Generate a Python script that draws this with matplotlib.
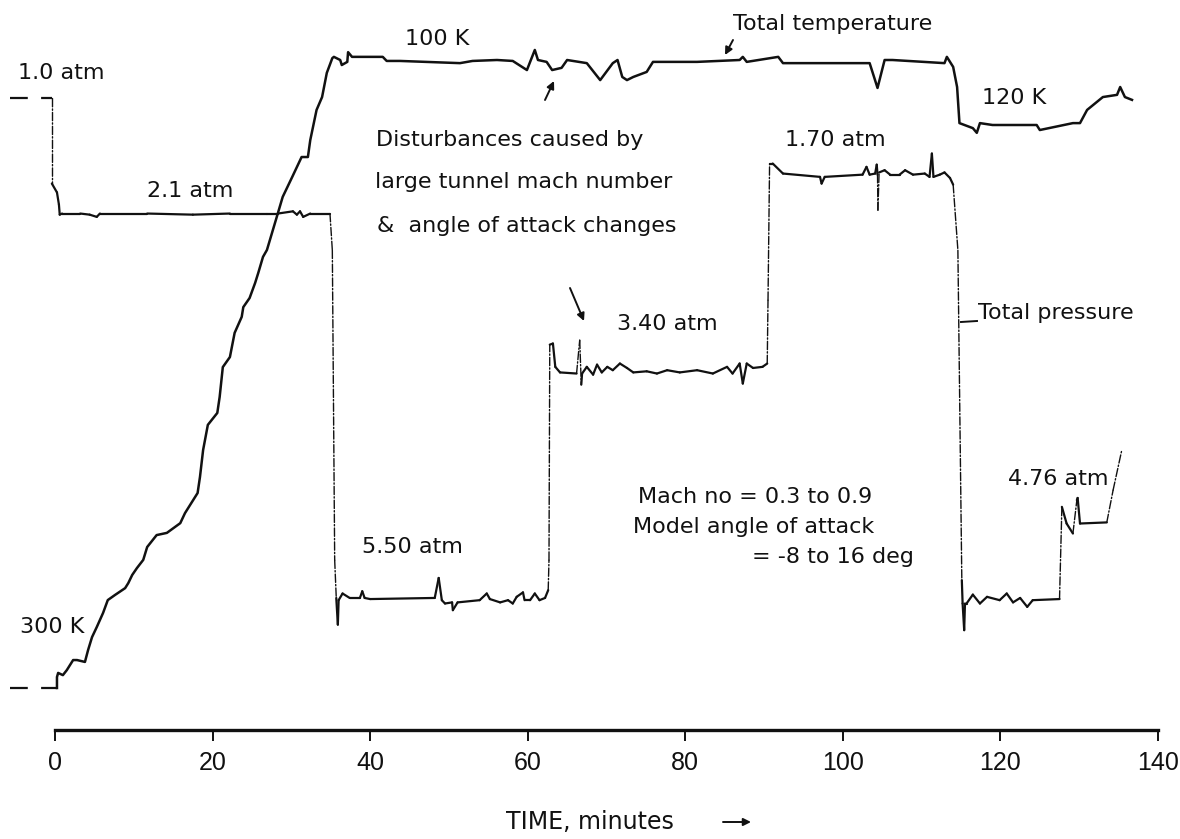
import matplotlib
matplotlib.use("Agg")
import matplotlib.pyplot as plt
from matplotlib.collections import LineCollection
import numpy as np

# ---------------- data ----------------
# Total temperature trace: time [min], temperature [K]
temp_time = [0.25, 0.25, 0.4, 1.0, 1.5, 2.3, 2.8, 3.8, 4.2, 4.7, 5.3, 6.1, 6.7, 7.6, 8.9,
             9.3, 9.8, 10.4, 11.2, 11.7, 12.9, 14.2, 15.9, 16.5, 18.1, 18.4, 18.8, 19.4,
             20.6, 20.9, 21.3, 22.2, 22.8, 23.7, 23.9, 24.7, 25.4, 25.8, 26.4, 26.9, 28.3,
             28.9, 30.1, 30.7, 31.3, 32.1, 32.4, 33.2, 33.9, 34.5, 35.2, 35.4, 36.2, 36.4,
             37.1, 37.2, 37.7, 41.6, 42.1, 43.8, 51.4, 53.0, 56.1, 58.1, 59.9, 60.9, 61.3,
             62.4, 63.1, 64.3, 65.0, 67.5, 69.2, 70.8, 71.4, 72.0, 72.6, 73.4, 75.1, 75.9,
             81.5, 86.9, 87.3, 87.8, 91.8, 92.4, 100.0, 103.4, 104.4, 105.3, 106.3, 112.9,
             113.2, 114.0, 114.5, 114.8, 116.5, 117.0, 117.4, 119.0, 124.6, 125.0, 129.2,
             130.1, 131.0, 133.0, 134.8, 135.2, 135.8, 136.7]
temp_K = [300, 296.5, 295.2, 295.9, 294.3, 291.1, 291.1, 291.7, 287.9, 283.8, 280.6, 276.1,
          272.0, 270.4, 268.2, 266.6, 264.0, 261.8, 259.2, 255.1, 251.3, 250.6, 247.5, 244.3,
          237.9, 232.8, 224.2, 216.2, 212.4, 207.3, 197.8, 194.6, 186.9, 181.8, 178.7, 175.8,
          171.0, 167.8, 162.7, 160.5, 148.7, 143.6, 137.3, 134.1, 130.9, 130.9, 125.5, 115.9,
          111.8, 104.1, 99.4, 99.0, 100.0, 101.6, 100.6, 97.5, 99.0, 99.0, 100.3, 100.3,
          101.0, 100.3, 100.0, 100.3, 103.2, 96.8, 100.0, 100.6, 103.2, 102.5, 100.0, 101.0,
          106.4, 101.0, 100.0, 105.4, 106.4, 105.4, 103.8, 100.6, 100.6, 100.0, 99.0, 100.6,
          99.0, 101.0, 101.0, 101.0, 108.9, 100.0, 100.0, 101.0, 99.0, 102.2, 108.6, 120.1,
          121.7, 123.2, 120.1, 120.7, 120.7, 122.3, 120.1, 120.1, 115.9, 111.8, 111.1, 108.6,
          111.8, 112.7]
temp_ref_K = 300
temp_ref_span = [-5.7, 0.25]

# Total pressure trace: time [min], pressure [atm]
pres_time = [-0.4, -0.4, 0.25, 0.5, 0.6, 0.9, 3.2, 4.4, 5.3, 5.7, 11.7, 17.5, 22.2, 26.9,
             28.3, 30.2, 30.7, 31.1, 31.5, 32.4, 34.9, 35.2, 35.5, 35.7, 35.9, 36.0, 36.5,
             37.4, 38.7, 39.0, 39.3, 40.0, 48.2, 48.7, 49.1, 49.5, 50.4, 50.5, 51.1, 53.9,
             54.8, 55.2, 56.5, 57.5, 58.1, 58.6, 59.4, 59.6, 60.3, 60.9, 61.5, 62.2, 62.6,
             62.7, 62.8, 63.2, 63.5, 64.1, 66.2, 66.6, 66.8, 66.9, 67.5, 68.3, 68.8, 69.4,
             70.1, 70.8, 71.7, 72.6, 73.4, 75.1, 76.4, 77.7, 79.3, 81.5, 83.5, 85.3, 86.0,
             86.9, 87.3, 87.8, 88.6, 89.8, 90.4, 90.5, 90.7, 91.1, 92.4, 97.1, 97.3, 97.7,
             102.5, 103.0, 103.4, 104.1, 104.3, 104.4, 104.45, 104.6, 105.3, 106.0, 107.2,
             107.9, 108.9, 110.4, 111.0, 111.3, 111.5, 112.3, 112.9, 113.6, 114.0, 114.6,
             115.1, 115.2, 115.4, 115.5, 115.7, 116.5, 117.4, 118.3, 119.9, 120.8, 121.6,
             122.5, 123.4, 124.1, 127.5, 127.8, 128.4, 129.2, 129.7, 129.8, 130.1, 133.5,
             134.3, 135.4]
pres_atm = [1.00, 1.77, 1.85, 1.96, 2.05, 2.04, 2.04, 2.05, 2.07, 2.04, 2.04, 2.05, 2.04,
            2.04, 2.04, 2.02, 2.05, 2.02, 2.07, 2.04, 2.04, 2.37, 5.16, 5.50, 5.74, 5.52,
            5.46, 5.50, 5.50, 5.44, 5.50, 5.51, 5.50, 5.32, 5.52, 5.55, 5.54, 5.61, 5.54,
            5.52, 5.46, 5.51, 5.54, 5.52, 5.55, 5.49, 5.45, 5.52, 5.52, 5.46, 5.52, 5.50,
            5.43, 5.16, 3.22, 3.21, 3.42, 3.47, 3.48, 3.18, 3.58, 3.48, 3.42, 3.49, 3.40,
            3.47, 3.42, 3.45, 3.39, 3.43, 3.47, 3.46, 3.48, 3.45, 3.47, 3.45, 3.48, 3.42,
            3.48, 3.39, 3.57, 3.39, 3.43, 3.42, 3.39, 2.82, 1.59, 1.59, 1.68, 1.71, 1.77,
            1.71, 1.69, 1.62, 1.69, 1.68, 1.60, 1.69, 2.01, 1.67, 1.65, 1.69, 1.69, 1.65,
            1.69, 1.68, 1.71, 1.50, 1.71, 1.69, 1.67, 1.72, 1.78, 2.37, 5.34, 5.55, 5.79,
            5.55, 5.55, 5.47, 5.55, 5.49, 5.52, 5.46, 5.54, 5.50, 5.58, 5.52, 5.51, 4.68,
            4.83, 4.92, 4.62, 4.60, 4.83, 4.82, 4.53, 4.17]
pres_ref_atm = 1.0
pres_ref_span = [-5.7, -0.4]

time_ticks = [0, 20, 40, 60, 80, 100, 120, 140]

# ---------------- layout ----------------
W, H = 1180, 839
X0, X1, YAX = 55, 1158, 730          # pixel position of the time axis
T_PX, T_ROW = 3.14, 60               # px per K, pixel row of 100 K
P_PX, P_ROW = 111.1, 98              # px per atm, pixel row of 1.0 atm

def fx(px):
    return px / W

def fy(py):
    return 1 - py / H

fig = plt.figure(figsize=(W / 100, H / 100), dpi=100)
fig.patch.set_facecolor("white")
ax = fig.add_axes([fx(X0), fy(YAX), (X1 - X0) / W, YAX / H])
ax.set_xlim(time_ticks[0], time_ticks[-1])
ax.set_ylim(100 + (YAX - T_ROW) / T_PX, 100 - T_ROW / T_PX)
axp = ax.twinx()
axp.set_ylim(1 + (YAX - P_ROW) / P_PX, 1 - P_ROW / P_PX)

for a in (ax, axp):
    for s in ("top", "left", "right", "bottom"):
        a.spines[s].set_visible(False)
    a.set_yticks([])
    a.patch.set_alpha(0)
ax.spines["bottom"].set_visible(True)
ax.spines["bottom"].set_linewidth(2.4)
ax.spines["bottom"].set_color("#111111")

ax.set_xticks(time_ticks)
ax.set_xticklabels([str(t) for t in time_ticks],
                   fontfamily=["Liberation Sans", "DejaVu Sans"], fontsize=18)
ax.tick_params(axis="x", direction="out", length=8, width=1.4, pad=7, colors="#111111")

ink = "#111111"

# temperature trace
ax.plot(temp_ref_span, [temp_ref_K, temp_ref_K], color=ink, lw=1.6,
        ls=(0, (8, 6)), clip_on=False)
ax.plot(temp_time, temp_K, color=ink, lw=1.8, solid_joinstyle="round", clip_on=False)

# pressure trace: fast vertical transitions drawn thin and broken, as the pen left them
axp.plot(pres_ref_span, [pres_ref_atm, pres_ref_atm], color=ink, lw=1.6,
         ls=(0, (8, 6)), clip_on=False)
pts = np.column_stack([pres_time, pres_atm])
segs = np.stack([pts[:-1], pts[1:]], axis=1)
fast = np.abs(np.diff(pres_atm)) > 0.25
lws = np.where(fast, 1.0, 1.6)
styles = [(0, (6, 1.5, 1, 1.5)) if f else "solid" for f in fast]
lc = LineCollection(segs, colors=ink, linewidths=lws, linestyles=styles,
                    capstyle="round", joinstyle="round", clip_on=False)
axp.add_collection(lc)

# ---------------- annotations ----------------
tk = dict(fontsize=16, color=ink, va="center", ha="left", family="DejaVu Sans")
def label(x, y, s, **kw):
    d = dict(tk)
    d.update(kw)
    fig.text(fx(x), fy(y), s, **d)

label(18, 73, "1.0 atm")
label(147, 191, "2.1 atm")
label(20, 627, "300 K")
label(405, 39, "100 K")
label(733, 24, "Total temperature")
label(376, 140, "Disturbances caused by")
label(375, 182, "large tunnel mach number")
label(377, 226, "&  angle of attack changes")
label(617, 324, "3.40 atm")
label(785, 140, "1.70 atm")
label(982, 98, "120 K")
label(978, 313, "Total pressure")
label(362, 547, "5.50 atm")
label(1008, 479, "4.76 atm")
label(638, 497, "Mach no = 0.3 to 0.9")
label(633, 527, "Model angle of attack")
label(752, 557, "= -8 to 16 deg")
label(506, 822, "TIME, minutes", fontsize=17)

arrow = dict(arrowstyle="-|>", color=ink, lw=1.4, mutation_scale=11, shrinkA=0, shrinkB=0)
def pointer(x0, y0, x1, y1, props=arrow):
    fig.add_artist(matplotlib.patches.FancyArrowPatch(
        (fx(x0), fy(y0)), (fx(x1), fy(y1)), transform=fig.transFigure, **props))

pointer(733, 40, 725, 55)          # total temperature
pointer(545, 100, 554, 81)         # disturbance (temperature)
pointer(570, 288, 584, 321)        # disturbance (pressure)
pointer(723, 822, 751, 822)        # time direction
fig.add_artist(matplotlib.lines.Line2D([fx(961), fx(977)], [fy(322), fy(321)],
                                       transform=fig.transFigure, color=ink, lw=1.4))

fig.savefig("out.png", dpi=100, facecolor="white")
